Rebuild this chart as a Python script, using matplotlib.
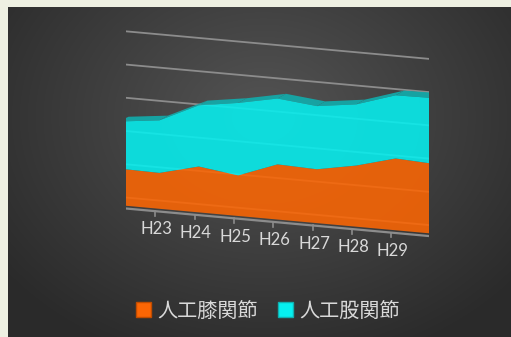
import numpy as np
import matplotlib
matplotlib.use("Agg")
import matplotlib.pyplot as plt
from matplotlib.patches import Patch
from mpl_toolkits.mplot3d.art3d import Poly3DCollection

# data (stacked 3D area)
years = ["H21", "H22", "H23", "H24", "H25", "H26", "H27", "H28", "H29", "H30", "H31"]
knee = [44, 55, 54, 69, 61, 83, 81, 92, 108, 105, 110]
hip = [49, 71, 79, 92, 109, 99, 95, 92, 95, 99, 106]
series_names = ["人工膝関節", "人工股関節"]
z_ticks = [0, 50, 100, 150, 200, 250]

knee_color = "#fc6604"
hip_color = "#06f0f0"
text_color = "#d9d9d9"
grid_color = "#8c8c8c"

fig = plt.figure(figsize=(5.11, 3.37), dpi=100, facecolor="#eef0e2")

# dark radial background panel
bg = fig.add_axes([8 / 511, 0, 503 / 511, 330 / 337])
yy, xx = np.mgrid[0:330, 0:503]
r = np.clip(np.sqrt(((xx - 255) / 330) ** 2 + ((yy - 110) / 260) ** 2), 0, 1)
c = (84 - 42 * r) / 255
bg.imshow(np.dstack([c, c, c]), aspect="auto")
bg.axis("off")

ax = fig.add_axes([0.0434, 0.140, 1.0, 0.9], projection="3d", computed_zorder=False)
ax.set_facecolor((0, 0, 0, 0))
ax.set_proj_type("ortho")
ax.view_init(elev=13, azim=-68)
ax.set_box_aspect((1.22, 0.13, 0.49), zoom=1.472)
ax.set_axis_off()

x = np.arange(len(years))
total = np.add(knee, hip)
y0, y1 = 0.25, 0.75
n = len(x) - 1

# walls: value gridlines on left and back wall
grid_lines = []
for z in z_ticks:
    ln, = ax.plot([0, 0, n], [0, 1, 1], [z, z, z], color=grid_color, lw=1.3, zorder=0.5)
    grid_lines.append(ln)

# category axis with ticks
ax.plot([0, n, n], [0, 0, 1], [0, 0, 0], color=grid_color, lw=1.6, zorder=0.6)
tick_lines = []
for xi in x:
    ln, = ax.plot([xi, xi], [0, 0], [0, -7], color=grid_color, lw=1.2, zorder=0.6)
    tick_lines.append(ln)

# hip top strip
tops = []
for i in range(n):
    tops.append([(x[i], y0, total[i]), (x[i + 1], y0, total[i + 1]),
                 (x[i + 1], y1, total[i + 1]), (x[i], y1, total[i])])
ax.add_collection3d(Poly3DCollection(tops, facecolor="#14a8a8", edgecolor="none", alpha=0.95, zorder=1), autolim=False)

# right end caps
cap_k = [(x[n], y0, 0), (x[n], y1, 0), (x[n], y1, knee[n]), (x[n], y0, knee[n])]
cap_h = [(x[n], y0, knee[n]), (x[n], y1, knee[n]), (x[n], y1, total[n]), (x[n], y0, total[n])]
ax.add_collection3d(Poly3DCollection([cap_k], facecolor="#b9500c", edgecolor="none", zorder=2), autolim=False)
ax.add_collection3d(Poly3DCollection([cap_h], facecolor="#0fb0b0", edgecolor="none", zorder=2), autolim=False)

# front faces
front_k = [(xi, y0, k) for xi, k in zip(x, knee)] + [(x[-1], y0, 0), (x[0], y0, 0)]
front_h = [(xi, y0, t) for xi, t in zip(x, total)] + [(xi, y0, k) for xi, k in zip(x[::-1], knee[::-1])]
ax.add_collection3d(Poly3DCollection([front_k], facecolor=knee_color, edgecolor="none", alpha=0.88, zorder=3), autolim=False)
ax.add_collection3d(Poly3DCollection([front_h], facecolor=hip_color, edgecolor="none", alpha=0.88, zorder=3), autolim=False)

ax.set_xlim(0, n)
ax.set_ylim(0, 1)
ax.set_zlim(0, 250)

# draw once so the 3D lines hold their projected positions, then hang labels on them
fig.canvas.draw()
for z, ln in zip(z_ticks, grid_lines):
    px, py = ln.get_xydata()[0]
    ax.annotate(str(z), (px, py), xycoords="data", xytext=(-7, 0), textcoords="offset points",
                ha="right", va="center", fontsize=12.5, family="Lato", color=text_color)
for lab, ln in zip(years, tick_lines):
    px, py = ln.get_xydata()[1]
    ax.annotate(lab, (px, py), xycoords="data", xytext=(1, -4), textcoords="offset points",
                ha="center", va="top", fontsize=12, family="Lato", color=text_color)

fig.legend(handles=[Patch(facecolor=knee_color, edgecolor="#c04c00"),
                    Patch(facecolor=hip_color, edgecolor="#10b0b0")],
           labels=series_names, loc="center", bbox_to_anchor=(268 / 511, 1 - 311 / 337),
           ncol=2, frameon=False, prop={"family": "Noto Sans CJK JP", "size": 14.5},
           labelcolor=text_color, handlelength=0.75, handleheight=0.75,
           handletextpad=0.3, columnspacing=1.0)

fig.savefig("out.png", dpi=100, facecolor=fig.get_facecolor())
